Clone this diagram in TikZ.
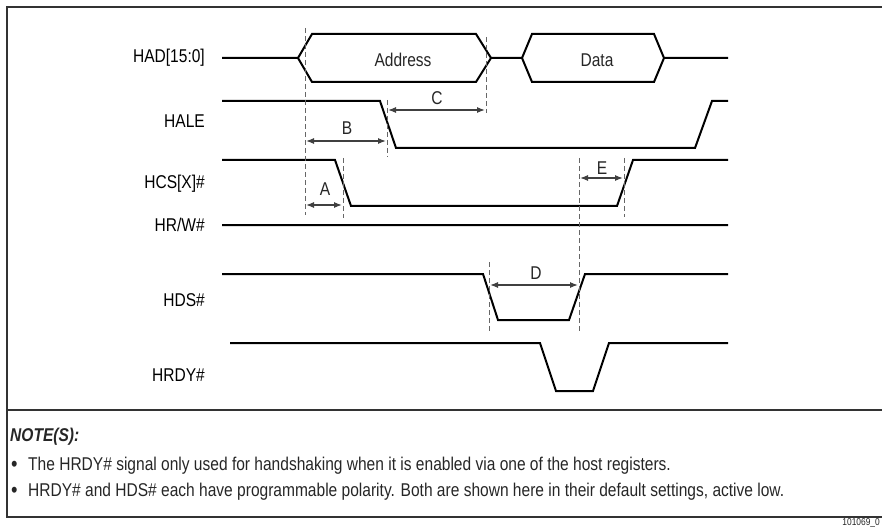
\documentclass[tikz,border=0pt]{standalone}
\usepackage{fontspec}
\setmainfont{Liberation Sans}[FakeStretch=0.84]
\usetikzlibrary{arrows.meta,calc,positioning}
\tikzstyle{sigline} = [black, line width=2pt, line join=miter]
\tikzstyle{guide} = [black!60, line width=0.9pt, dash pattern=on 5pt off 3pt]
\tikzstyle{delay} = [black!75, line width=1.2pt, {Latex[length=8pt,width=6pt]}-{Latex[length=8pt,width=6pt]}]
\tikzstyle{signame} = [anchor=east, inner sep=0pt, font=\fontsize{18.5}{22}\selectfont]
\tikzstyle{delayname} = [inner sep=0pt, font=\fontsize{18.5}{22}\selectfont, black!85]
\tikzstyle{notetext} = [anchor=west, inner sep=0pt, font=\fontsize{18.5}{22}\selectfont, black!85]

\begin{document}
\begin{tikzpicture}[x=1pt, y=-1pt]
            \useasboundingbox (0,0) rectangle (882,529);

            % frame
            \path
                [black!80, draw, line width=1.3pt]
                (882,7) -- (7,7) -- (7,517) -- (882,517)
                (7,410) -- (882,410);

            % signal names
            \node[signame] (had) at (205,58) {HAD[15:0]};
            \node[signame] (hale) at (205,121) {HALE};
            \node[signame] (hcs) at (205,184) {HCS[X]\#};
            \node[signame] (hrw) at (205,225) {HR/W\#};
            \node[signame] (hds) at (205,300) {HDS\#};
            \node[signame] (hrdy) at (205,375) {HRDY\#};

            % bus
            \path
                [sigline, draw]
                (222,58) -- (298,58)
                (298,58) -- (312,34) -- (476,34) -- (491,58) -- (476,82) -- (312,82) -- (298,58) -- (312,34)
                (491,58) -- (522,58)
                (522,58) -- (532,34) -- (654,34) -- (664,58) -- (654,82) -- (532,82) -- (522,58) -- (532,34)
                (664,58) -- (728,58);
            \node[delayname] (addr) at (403,60) {Address};
            \node[delayname] (data) at (597,60) {Data};

            % control lines
            \path
                [sigline, draw]
                (222,101) -- (380,101) -- (396,148) -- (695,148) -- (712,101) -- (728,101)
                (222,160) -- (335,160) -- (351,206) -- (617,206) -- (633,160) -- (728,160)
                (222,225) -- (728,225)
                (222,274) -- (483,274) -- (498,320) -- (569,320) -- (585,274) -- (728,274)
                (230,343) -- (540,343) -- (556,391) -- (593,391) -- (609,343) -- (728,343);

            % edges
            \coordinate (g1) at (305,28);
            \coordinate (g2) at (387,100);
            \coordinate (g3) at (486,37);
            \coordinate (g4) at (343,158);
            \coordinate (g5) at (579,158);
            \coordinate (g6) at (624,158);
            \coordinate (g7) at (489,262);
            \path
                [guide, draw]
                (g1) -- ++(0,187)
                (g2) -- ++(0,57)
                (g3) -- ++(0,76)
                (g4) -- ++(0,60)
                (g5) -- ++(0,175)
                (g6) -- ++(0,59)
                (g7) -- ++(0,71);

            % delays
            \draw[delay] ($(g1|-0,205) + (1,0)$) -- ($(g4|-0,205) + (-1,0)$);
            \draw[delay] ($(g1|-0,141) + (1,0)$) -- ($(g2|-0,141) + (-1,0)$);
            \draw[delay] ($(g2|-0,110) + (1,0)$) -- ($(g3|-0,110) + (-1,0)$);
            \draw[delay] ($(g7|-0,285) + (1,0)$) -- ($(g5|-0,285) + (-1,0)$);
            \draw[delay] ($(g5|-0,178) + (1,0)$) -- ($(g6|-0,178) + (-1,0)$);
            \node[delayname] (A) at (325,189) {A};
            \node[delayname] (B) at (347,128) {B};
            \node[delayname] (C) at (437,98) {C};
            \node[delayname] (D) at (536,273) {D};
            \node[delayname] (E) at (602,168) {E};

            % notes
            \node[notetext, font=\fontsize{18.5}{22}\selectfont\bfseries\itshape] (notes) at (10,437) {NOTE(S):};
            \node[notetext, font=\fontsize{22}{22}\selectfont] (b1) at (11,466) {•};
            \node[notetext, font=\fontsize{22}{22}\selectfont] (b2) at (11,492) {•};
            \node[notetext] (n1) at (28,466) {The HRDY\# signal only used for handshaking when it is enabled via one of the host registers.};
            \node[notetext] (n2) at (28,492) {HRDY\# and HDS\# each have programmable polarity. Both are shown here in their default settings, active low.};
            \node[notetext, anchor=east, font=\fontsize{10}{12}\selectfont] (fig) at (880,523) {101069\_0};
        \end{tikzpicture}
\end{document}
